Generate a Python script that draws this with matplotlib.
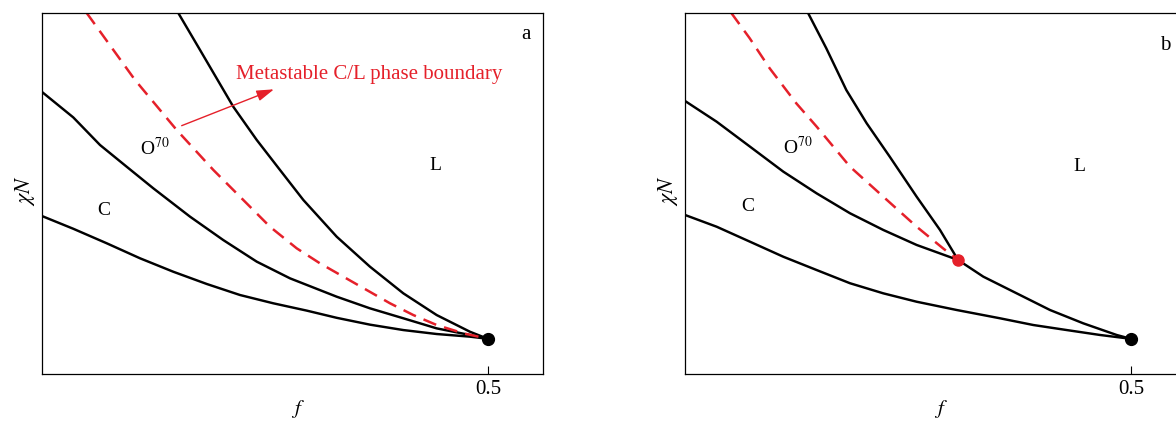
import matplotlib
matplotlib.use("Agg")
import matplotlib.pyplot as plt

plt.rcParams['font.family'] = ['Liberation Serif', 'DejaVu Serif']
plt.rcParams['mathtext.fontset'] = 'stix'

RED = '#e5202a'

# ---------------- data ----------------
# critical point
f_crit = 0.5
chi_crit = 10.85

# panel a
f_odt_a = [0.055, 0.0862, 0.1196, 0.1528, 0.186, 0.2194, 0.2526, 0.2858, 0.3192, 0.3491, 0.3823, 0.4156, 0.4489, 0.4821, 0.5]
chi_odt_a = [21.08, 20.02, 18.81, 17.56, 16.44, 15.42, 14.5, 13.81, 13.2, 12.6, 12.03, 11.58, 11.25, 11.03, 10.85]

f_co_a = [0.055, 0.0862, 0.1129, 0.1395, 0.1661, 0.2027, 0.2359, 0.2693, 0.3025, 0.3491, 0.3823, 0.4156, 0.4489, 0.4821, 0.5]
chi_co_a = [31.42, 29.3, 27.0, 25.19, 23.39, 21.03, 19.08, 17.28, 15.89, 14.36, 13.39, 12.56, 11.72, 11.17, 10.85]

f_ol_a = [0.191, 0.2127, 0.2459, 0.2693, 0.2925, 0.3158, 0.3491, 0.3823, 0.4156, 0.4489, 0.4821, 0.5]
chi_ol_a = [38.0, 34.92, 30.19, 27.42, 24.92, 22.42, 19.36, 16.86, 14.64, 12.83, 11.44, 10.85]

f_meta_a = [0.0996, 0.1478, 0.1894, 0.226, 0.2659, 0.2825, 0.3092, 0.3324, 0.3557, 0.379, 0.4023, 0.4256, 0.4489, 0.4755, 0.5]
chi_meta_a = [38.0, 32.42, 28.25, 24.92, 21.58, 20.19, 18.39, 17.14, 16.03, 14.92, 13.81, 12.83, 12.0, 11.31, 10.85]

# panel b
f_odt_b = [0.055, 0.0866, 0.1199, 0.1531, 0.1864, 0.2197, 0.2529, 0.2862, 0.3262, 0.3694, 0.4026, 0.436, 0.4692, 0.5]
chi_odt_b = [21.17, 20.19, 18.94, 17.69, 16.58, 15.48, 14.64, 13.94, 13.25, 12.56, 12.0, 11.58, 11.17, 10.85]

f_co_b = [0.055, 0.0866, 0.1199, 0.1531, 0.1864, 0.2197, 0.2529, 0.2862, 0.3275, 0.3527, 0.386, 0.4193, 0.4525, 0.4858, 0.5]
chi_co_b = [30.67, 28.94, 26.86, 24.78, 22.97, 21.31, 19.92, 18.67, 17.42, 16.03, 14.64, 13.25, 12.14, 11.17, 10.85]

f_ol_b = [0.1778, 0.196, 0.216, 0.2363, 0.2593, 0.2862, 0.3095, 0.3275]
chi_ol_b = [38.0, 35.06, 31.58, 28.81, 26.03, 22.69, 19.92, 17.42]

f_meta_b = [0.1012, 0.1196, 0.1395, 0.1661, 0.1864, 0.2197, 0.2529, 0.2862, 0.3125, 0.3275]
chi_meta_b = [38.0, 35.89, 33.39, 30.47, 28.53, 25.19, 22.69, 20.19, 18.39, 17.42]

# triple point (panel b)
f_trip = 0.3275
chi_trip = 17.42

xticks = [0.5]
xtick_labels = ['0.5']

# ---------------- figure ----------------
fig = plt.figure(figsize=(11.76, 4.21), dpi=100)
W, H = 1176.0, 421.0
ax_a = fig.add_axes([42 / W, (H - 373.5) / H, 501 / W, 361 / H])
ax_b = fig.add_axes([685 / W, (H - 373.5) / H, 501 / W, 361 / H])

LW = 1.75
for ax in (ax_a, ax_b):
    ax.set_xlim(0.055, 0.555)
    ax.set_ylim(7.96, 38.04)
    ax.set_xticks(xticks)
    ax.set_xticklabels(xtick_labels)
    ax.set_yticks([])
    ax.tick_params(axis='x', direction='in', length=6, width=0.8, labelsize=15, pad=5)
    for s in ax.spines.values():
        s.set_linewidth(0.9)
    ax.set_xlabel(r'$f$', fontsize=15)
    ax.xaxis.set_label_coords(0.51, -0.068)
    ax.set_ylabel(r'$\chi N$', fontsize=16)
    ax.yaxis.set_label_coords(-0.01, 0.507)

# panel a
ax_a.plot(f_odt_a, chi_odt_a, color='black', lw=LW, solid_joinstyle='round')
ax_a.plot(f_co_a, chi_co_a, color='black', lw=LW, solid_joinstyle='round')
ax_a.plot(f_ol_a, chi_ol_a, color='black', lw=LW, solid_joinstyle='round')
ax_a.plot(f_meta_a, chi_meta_a, color=RED, lw=1.8, linestyle=(0, (5.5, 3.3)))
ax_a.plot([f_crit], [chi_crit], 'o', color='black', ms=8.5, zorder=5)

ax_a.text(0.1678, 26.75, r'O$^{70}$', fontsize=14, ha='center', va='center')
ax_a.text(0.1169, 21.58, 'C', fontsize=14, ha='center', va='center')
ax_a.text(0.4472, 25.25, 'L', fontsize=14, ha='center', va='center')
ax_a.text(0.966, 0.939, 'a', fontsize=15, ha='center', va='center', transform=ax_a.transAxes)
ax_a.text(0.2486, 32.9, 'Metastable C/L phase boundary', fontsize=15, color=RED,
          ha='left', va='center')
ax_a.annotate('', xy=(0.2865, 31.64), xytext=(0.1944, 28.61),
              arrowprops=dict(arrowstyle='-|>,head_length=0.7,head_width=0.22',
                              color=RED, lw=1.0, mutation_scale=15,
                              shrinkA=0, shrinkB=0))

# panel b
ax_b.plot(f_odt_b, chi_odt_b, color='black', lw=LW, solid_joinstyle='round')
ax_b.plot(f_co_b, chi_co_b, color='black', lw=LW, solid_joinstyle='round')
ax_b.plot(f_ol_b, chi_ol_b, color='black', lw=LW, solid_joinstyle='round')
ax_b.plot(f_meta_b, chi_meta_b, color=RED, lw=1.8, linestyle=(0, (5.5, 3.3)))
ax_b.plot([f_crit], [chi_crit], 'o', color='black', ms=8.5, zorder=5)
ax_b.plot([f_trip], [chi_trip], 'o', color=RED, ms=8, zorder=5)

ax_b.text(0.1678, 26.83, r'O$^{70}$', fontsize=14, ha='center', va='center')
ax_b.text(0.1179, 21.86, 'C', fontsize=14, ha='center', va='center')
ax_b.text(0.4482, 25.17, 'L', fontsize=14, ha='center', va='center')
ax_b.text(0.958, 0.909, 'b', fontsize=15, ha='center', va='center', transform=ax_b.transAxes)

fig.savefig('out.png', dpi=100)
